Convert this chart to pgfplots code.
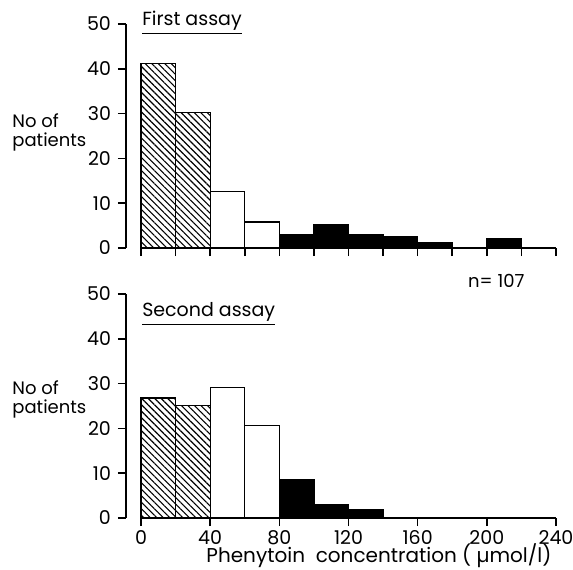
\documentclass[border=0pt]{standalone}
\usepackage{fontspec}
\setmainfont{Poppins}
\usepackage{pgfplots}
\pgfplotsset{compat=1.18}
\usetikzlibrary{patterns.meta}

\pgfplotsset{
  panel/.style={
    scale only axis, width=207.5pt, height=112pt,
    xmin=0, xmax=240, ymin=0, ymax=50,
    axis x line=bottom, axis y line=left,
    axis line style={-, line width=1pt},
    axis y line shift=7.5pt,
    ytick={0,10,...,50},
    tick align=outside,
    major tick length=4pt,
    tick style={line width=0.8pt, black},
    /pgf/number format/assume math mode=true,
    tick label style={font=\fontsize{9.5}{11}\selectfont},
    xticklabel style={yshift=1.5pt},
    clip=false,
  },
  hatched/.style={ybar, bar width=20, bar shift=0pt, draw=black, line width=0.6pt,
    pattern={Lines[angle=-45,distance=2.3pt,line width=0.55pt]}},
  open/.style={ybar, bar width=20, bar shift=0pt, draw=black, line width=0.6pt, fill=white},
  solid/.style={ybar, bar width=20, bar shift=0pt, draw=black, line width=0.6pt, fill=black},
}
\tikzset{lbl/.style={anchor=west, align=left, inner sep=0pt, font=\fontsize{9}{9.5}\selectfont}}

\begin{document}
\begin{tikzpicture}[font=\fontsize{10}{12}\selectfont]
\useasboundingbox (-70.5pt,-160.5pt) rectangle (216pt,124pt);
% first assay
\begin{axis}[panel, at={(0,0)}, anchor=south west,
  xtick={0,20,...,240}, xticklabels={}]
\addplot[hatched] coordinates {(10,41.2) (30,30.2)};
\addplot[open] coordinates {(50,12.6) (70,5.8)};
\addplot[solid] coordinates {(90,3.1) (110,5.3) (130,3.1) (150,2.5) (170,1.2) (210,2.0)};
\node[anchor=base west, inner sep=0pt, font=\fontsize{9.5}{10}\selectfont] at (axis cs:0.5,49.6) {\underline{First assay}};
\node[lbl] at (axis cs:-74.6,25.7) {No of\\patients};
\node[anchor=base west, inner sep=0pt, font=\fontsize{9}{10}\selectfont] at (axis cs:189,-8.8) {n= 107};
\end{axis}
% second assay
\begin{axis}[panel, at={(0,-135pt)}, anchor=south west,
  xtick={0,40,...,240}]
\addplot[hatched] coordinates {(10,26.8) (30,25.2)};
\addplot[open] coordinates {(50,29.2) (70,20.7)};
\addplot[solid] coordinates {(90,8.6) (110,3.1) (130,1.8)};
\node[anchor=base west, inner sep=0pt, font=\fontsize{9.5}{10}\selectfont] at (axis cs:0.5,44.9) {\underline{Second assay}};
\node[lbl] at (axis cs:-74.6,26.5) {No of\\patients};
\node[anchor=base, inner sep=0pt] at (axis cs:137.6,-10.0) {Phenytoin\ \ concentration\ ( µmol/l)};
\end{axis}
\end{tikzpicture}
\end{document}
